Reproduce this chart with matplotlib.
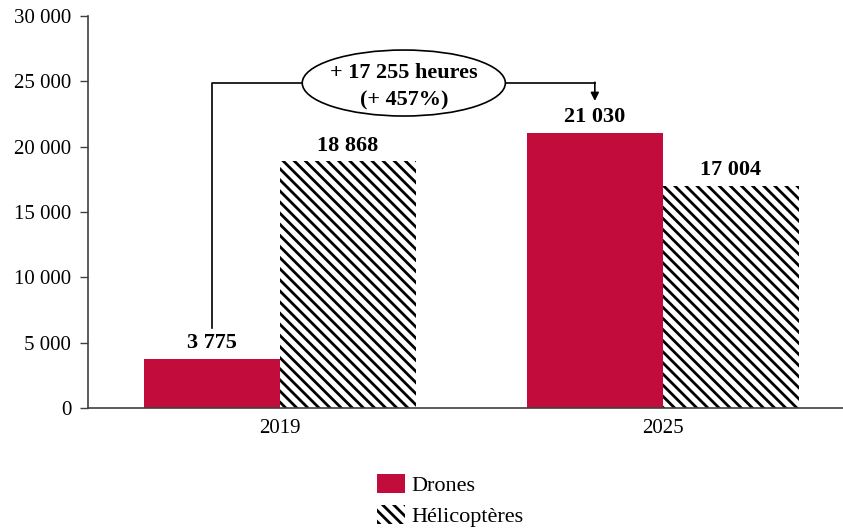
import matplotlib.pyplot as plt
from matplotlib.patches import Ellipse, Patch

plt.rcParams["font.family"] = ["Liberation Serif", "DejaVu Serif"]
plt.rcParams["hatch.linewidth"] = 2.0

years = ["2019", "2025"]
drones = [3775, 21030]
helicos = [18868, 17004]
series_names = ["Drones", "Hélicoptères"]
gain_text = "+ 17 255 heures\n(+ 457%)"
yticks = [0, 5000, 10000, 15000, 20000, 25000, 30000]

red = "#c20d3c"


def fmt(v):
    return f"{v:,}".replace(",", " ")


fig = plt.figure(figsize=(8.43, 5.28), dpi=100)
ax = fig.add_axes([88 / 843, 1 - 408 / 528, 1 - 88 / 843, 392 / 528])

x = list(range(len(years)))
w = 136 / 383

ax.bar([i - w for i in x], drones, width=w, align="edge", color=red,
       edgecolor="none")
ax.bar(x, helicos, width=w, align="edge", color="white",
       edgecolor="black", hatch="\\\\\\", linewidth=0)

for i in x:
    ax.text(i - w / 2, drones[i] + 450, fmt(drones[i]), ha="center",
            va="bottom", fontsize=16, fontweight="bold")
    ax.text(i + w / 2, helicos[i] + 450, fmt(helicos[i]), ha="center",
            va="bottom", fontsize=16, fontweight="bold")

# connector between the two drone bars
y_top = 24870
ax.plot([0 - w / 2, 0 - w / 2, 1 - w / 2], [6100, y_top, y_top],
        color="black", lw=1.2)
ax.annotate("", xy=(1 - w / 2, 23500), xytext=(1 - w / 2, y_top + 60),
            arrowprops=dict(arrowstyle="-|>", color="black", lw=1.2,
                            mutation_scale=12, shrinkA=0, shrinkB=0))
ax.add_patch(Ellipse((0.324, y_top), 0.53, 5050, facecolor="white",
                     edgecolor="black", lw=1.2, zorder=3))
ax.text(0.324, y_top - 300, gain_text, ha="center", va="center",
        fontsize=16, fontweight="bold", zorder=4, linespacing=1.5)

ax.set_xlim(-0.5, 1.47)
ax.set_ylim(0, 30000)
ax.set_yticks(yticks)
ax.set_yticklabels([fmt(v) for v in yticks], fontsize=15)
ax.set_xticks(x)
ax.set_xticklabels(years, fontsize=15)
ax.tick_params(axis="x", length=0, pad=8)
ax.tick_params(axis="y", length=6, width=1, color="#404040", pad=6)

for s in ["top", "right"]:
    ax.spines[s].set_visible(False)
for s in ["left", "bottom"]:
    ax.spines[s].set_color("#404040")
    ax.spines[s].set_linewidth(1.2)

handles = [Patch(facecolor=red, edgecolor="none"),
           Patch(facecolor="white", edgecolor="black", hatch="\\\\\\",
                 linewidth=0)]
fig.legend(handles, series_names, loc="upper left",
           bbox_to_anchor=(361 / 843, 1 - 458 / 528), frameon=False,
           fontsize=16, handlelength=1.3, handleheight=0.95,
           labelspacing=0.4, handletextpad=0.25, borderpad=0.2)

fig.savefig("out.png", dpi=100)
